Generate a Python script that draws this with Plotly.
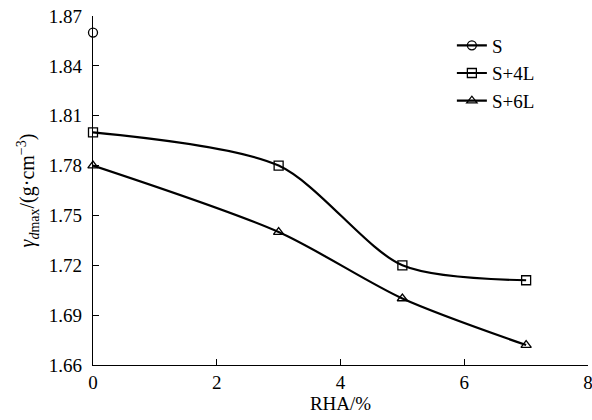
import plotly.graph_objects as go

x_s = [0]
y_s = [1.86]
x_4l = [0, 3, 5, 7]
y_4l = [1.80, 1.78, 1.72, 1.711]
x_6l = [0, 3, 5, 7]
y_6l = [1.78, 1.74, 1.70, 1.672]
names = ["S", "S+4L", "S+6L"]
x_ticks = [0, 2, 4, 6, 8]
y_ticks = [1.66, 1.69, 1.72, 1.75, 1.78, 1.81, 1.84, 1.87]

FONT = "Liberation Serif, Times New Roman, serif"
fig = go.Figure()
series = [(x_s, y_s, "circle-open"), (x_4l, y_4l, "square-open"), (x_6l, y_6l, "triangle-up-open")]
for (xs, ys, sym), nm in zip(series, names):
    fig.add_trace(go.Scatter(
        x=xs, y=ys, name=nm, mode="lines+markers",
        line=dict(color="black", width=2.2, shape="spline", smoothing=0.8),
        marker=dict(symbol=sym, size=9, color="black", line=dict(width=1.3, color="black")),
        cliponaxis=False,
    ))

fig.update_layout(
    width=592, height=420,
    margin=dict(l=93, r=4, t=16, b=55),
    plot_bgcolor="white", paper_bgcolor="white",
    font=dict(family=FONT, size=19, color="black"),
    showlegend=True,
    legend=dict(x=0.725, y=0.97, xanchor="left", yanchor="top",
                bgcolor="rgba(0,0,0,0)", font=dict(size=19, family=FONT),
                tracegroupgap=0, itemwidth=30),
)
fig.update_xaxes(
    range=[0, 8], tickvals=x_ticks, ticktext=[str(v) for v in x_ticks],
    showline=True, linecolor="black", linewidth=1.2, mirror=False, automargin=False,
    ticks="inside", ticklen=6, tickcolor="black", showgrid=False, zeroline=False,
    tickfont=dict(size=19), ticklabeloverflow="allow",
    title=dict(text="RHA/%", standoff=4, font=dict(size=19)),
)
fig.update_yaxes(
    range=[1.66, 1.87], tickvals=y_ticks, ticktext=[f"{v:.2f}" for v in y_ticks],
    showline=True, linecolor="black", linewidth=1.2, mirror=False, automargin=False,
    ticks="inside", ticklen=6, tickcolor="black", showgrid=False, zeroline=False,
    tickfont=dict(size=19), ticklabelstandoff=6, ticklabeloverflow="allow",
    title=dict(text="<i>γ</i><sub><i>d</i>max</sub>/(g·cm<sup>−3</sup>)", standoff=8, font=dict(size=20)),
)
fig.write_html("out.html")
